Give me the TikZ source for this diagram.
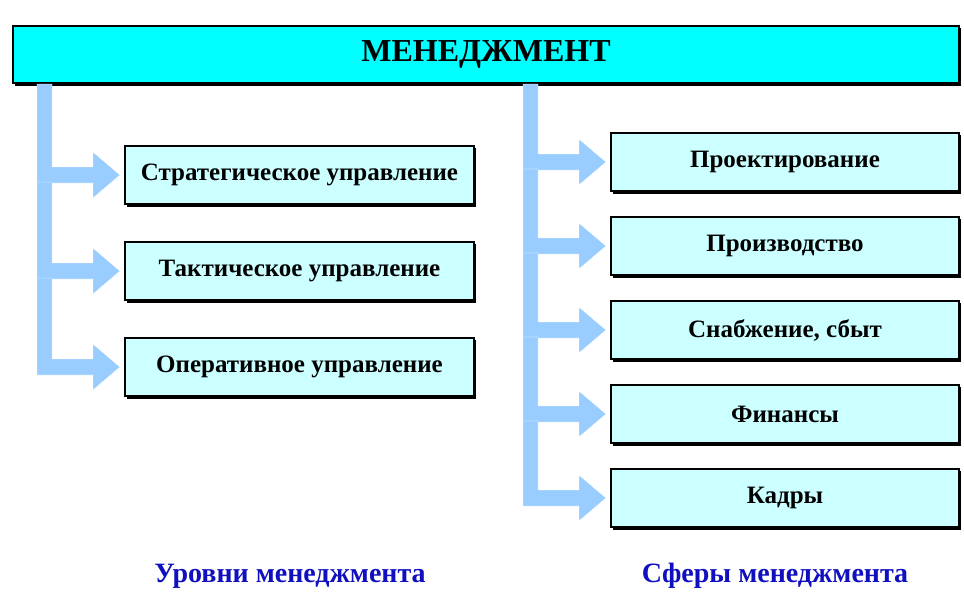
\documentclass[tikz,border=0pt]{standalone}
\usepackage{fontspec}
\setmainfont{Liberation Serif}
\usetikzlibrary{positioning,calc}
\definecolor{topfill}{HTML}{00FFFF}
\definecolor{boxfill}{HTML}{CCFFFF}
\definecolor{barfill}{HTML}{99CCFF}
\definecolor{capblue}{HTML}{1010C0}
\tikzset{
  box/.style={draw=black,line width=2pt,fill=boxfill,minimum width=348pt,minimum height=58pt,
    font=\fontsize{25}{27}\selectfont\bfseries,anchor=north west},
  shade/.style={fill=black},
  caption/.style={text=capblue,font=\fontsize{28}{30}\selectfont\bfseries}
}
% L-shaped arrow: bar x, segment top y, target node
\newcommand{\larrow}[3]{%
  \coordinate (tip) at ($(#3.west)+(-4,0)$);
  \coordinate (hu) at ($(tip)+(-27,-8)$);
  \coordinate (hd) at ($(tip)+(-27,8)$);
  \fill[barfill,draw=white,line width=0.4pt]
    (#1,#2) -- (#1+15,#2) -- (#1+15,#2 |- hu) -- (hu) -- ++(0,-15)
    -- (tip) -- ($(hd)+(0,15)$) -- (hd) -- (#1,#2 |- hd) -- cycle;}
\begin{document}
\begin{tikzpicture}[x=1pt,y=-1pt]
\useasboundingbox (0,0) rectangle (964,614);
% title
\fill[shade] (15,28) rectangle (961,86);
\node[draw=black,line width=2pt,fill=topfill,minimum width=946pt,minimum height=57pt,
  anchor=north west,font=\fontsize{32}{34}\selectfont\bfseries] (top) at (12,25) {МЕНЕДЖМЕНТ};
% left column
\foreach \n/\y/\t in {s1/145/Стратегическое управление,s2/241/Тактическое управление,s3/337/Оперативное управление}{
  \fill[shade] (127,\y+3) rectangle (476,\y+62);
  \node[box,minimum width=349pt] (\n) at (124,\y) {\t};
}
% right column
\foreach \n/\y/\t in {r1/132/Проектирование,r2/216/Производство,r3/300/{Снабжение, сбыт},r4/384/Финансы,r5/468/Кадры}{
  \fill[shade] (613,\y+3) rectangle (961,\y+62);
  \node[box] (\n) at (610,\y) {\t};
}
\larrow{37}{84}{s1}
\larrow{37}{182}{s2}
\larrow{37}{278}{s3}
\larrow{523}{84}{r1}
\larrow{523}{169}{r2}
\larrow{523}{253}{r3}
\larrow{523}{337}{r4}
\larrow{523}{421}{r5}
% captions
\node[caption] (cl) at (290,576) {Уровни менеджмента};
\node[caption] (cr) at (775,576) {Сферы менеджмента};
\end{tikzpicture}
\end{document}
